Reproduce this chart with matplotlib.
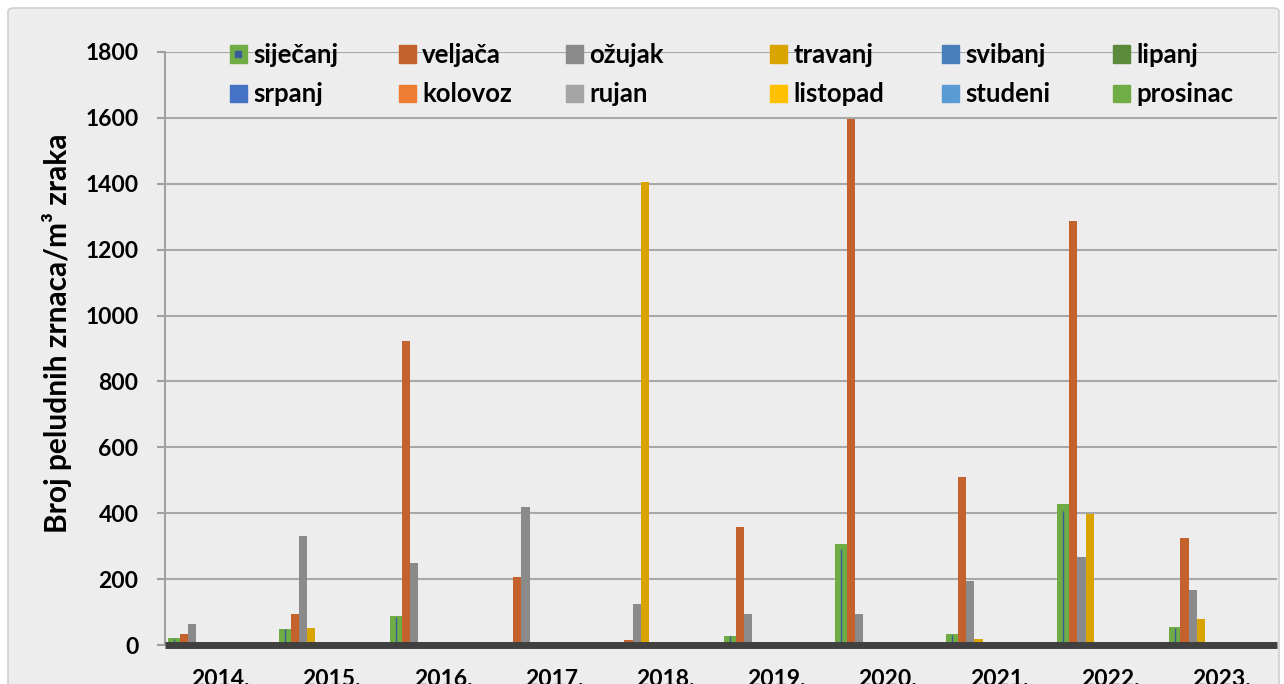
import matplotlib
matplotlib.use("Agg")
import matplotlib.pyplot as plt
from matplotlib.patches import Patch, FancyBboxPatch
from matplotlib.lines import Line2D
from matplotlib.legend_handler import HandlerTuple
import numpy as np

plt.rcParams['font.family'] = ['Lato', 'DejaVu Sans']
plt.rcParams['font.weight'] = 'bold'

years = ['2014.', '2015.', '2016.', '2017.', '2018.', '2019.', '2020.', '2021.', '2022.', '2023.']
months = ['siječanj', 'veljača', 'ožujak', 'travanj', 'svibanj', 'lipanj',
          'srpanj', 'kolovoz', 'rujan', 'listopad', 'studeni', 'prosinac']
colors = ['#6FAC46', '#C4622D', '#8A8A8A', '#D9A300', '#4A7EBB', '#5A8A3A',
          '#4472C4', '#ED7D31', '#A5A5A5', '#FFC000', '#5B9BD5', '#70AD47']

sijecanj = [20, 50, 88, 7, 0, 28, 307, 33, 428, 55]
veljaca = [33, 93, 923, 207, 15, 358, 1597, 510, 1287, 325]
ozujak = [65, 331, 250, 420, 125, 93, 94, 193, 267, 167]
travanj = [0, 52, 0, 0, 1405, 0, 0, 17, 398, 78]
svibanj = [0] * 10
lipanj = [0] * 10
srpanj = [0] * 10
kolovoz = [0] * 10
rujan = [0] * 10
listopad = [0] * 10
studeni = [0] * 10
prosinac = [0, 0, 0, 0, 0, 5, 0, 0, 0, 0]

series = [sijecanj, veljaca, ozujak, travanj, svibanj, lipanj,
          srpanj, kolovoz, rujan, listopad, studeni, prosinac]

fig = plt.figure(figsize=(12.84, 6.84), dpi=100)
fig.patch.set_facecolor('white')
# chart area background with border
fig.patches.append(FancyBboxPatch((8 / 1284, -0.05), 1271 / 1284, 1.05 - 8 / 684,
                                  boxstyle='round,pad=0,rounding_size=0.005',
                                  transform=fig.transFigure, facecolor='#EDEDED',
                                  edgecolor='#CFCFCF', linewidth=1.2, zorder=-10))

ax = fig.add_axes([165 / 1284, 1 - 645 / 684, 1112 / 1284, 593 / 684])
ax.set_facecolor('none')

x = np.arange(len(years))
n = len(months)
w = 0.885 / n
handles = []
for i, (name, vals, c) in enumerate(zip(months, series, colors)):
    left = x - 0.885 / 2 + i * w
    if i == 0:
        # first series drawn a little wider, like the original
        ax.bar(left - 0.45 * w, vals, width=1.45 * w, align='edge', color=c, zorder=3)
        ax.vlines(left + 0.3 * w, 0, np.array(vals) * 0.95, color='#3A5A9A',
                  linewidth=1, zorder=4)
        handles.append((Patch(facecolor=c, edgecolor=c),
                        Line2D([], [], marker='s', color='#3A5A9A', markersize=4,
                               linestyle='none')))
    else:
        ax.bar(left, vals, width=w, align='edge', color=c, zorder=3)
        handles.append(Patch(facecolor=c, edgecolor=c))

ax.set_xlim(-0.5, len(years) - 0.5)
ax.set_ylim(0, 1800)
ax.set_yticks(np.arange(0, 1801, 200))
ax.yaxis.grid(True, color='#A8A8A8', linewidth=1.5, zorder=0)
ax.set_axisbelow(True)

for s in ['top', 'right']:
    ax.spines[s].set_visible(False)
ax.spines['left'].set_color('#A0A0A0')
ax.spines['left'].set_linewidth(1.5)
ax.spines['bottom'].set_color('#404040')
ax.spines['bottom'].set_linewidth(5)
ax.spines['bottom'].set_capstyle('butt')
ax.spines['bottom'].set_zorder(5)

ax.tick_params(axis='y', length=6, width=1.5, color='#A0A0A0', labelsize=16.5, pad=13)
ax.tick_params(axis='x', length=0, labelsize=16.5, pad=17)
ax.set_xticks(x)
ax.set_xticklabels(years, fontweight='bold')
for t in ax.get_yticklabels():
    t.set_fontweight('bold')

ax.set_ylabel('Broj peludnih zrnaca/m³ zraka', fontsize=21.5, fontweight='bold')
ax.yaxis.set_label_coords(-0.084, 0.526)

# legend: 6 columns, two months per column (siječanj/srpanj, veljača/kolovoz, ...)
legend_cols_px = [230, 399, 566, 770, 942, 1113]
for j, px in enumerate(legend_cols_px):
    fig.legend([handles[j], handles[j + 6]], [months[j], months[j + 6]],
               loc='upper left', bbox_to_anchor=(px / 1284, 1 - 43 / 684),
               frameon=False, borderpad=0, borderaxespad=0,
               handlelength=0.65, handleheight=0.65,
               handletextpad=0.25, labelspacing=0.6,
               handler_map={tuple: HandlerTuple(ndivide=1)},
               prop={'weight': 'bold', 'size': 18.5})

fig.savefig('out.png', dpi=100)
